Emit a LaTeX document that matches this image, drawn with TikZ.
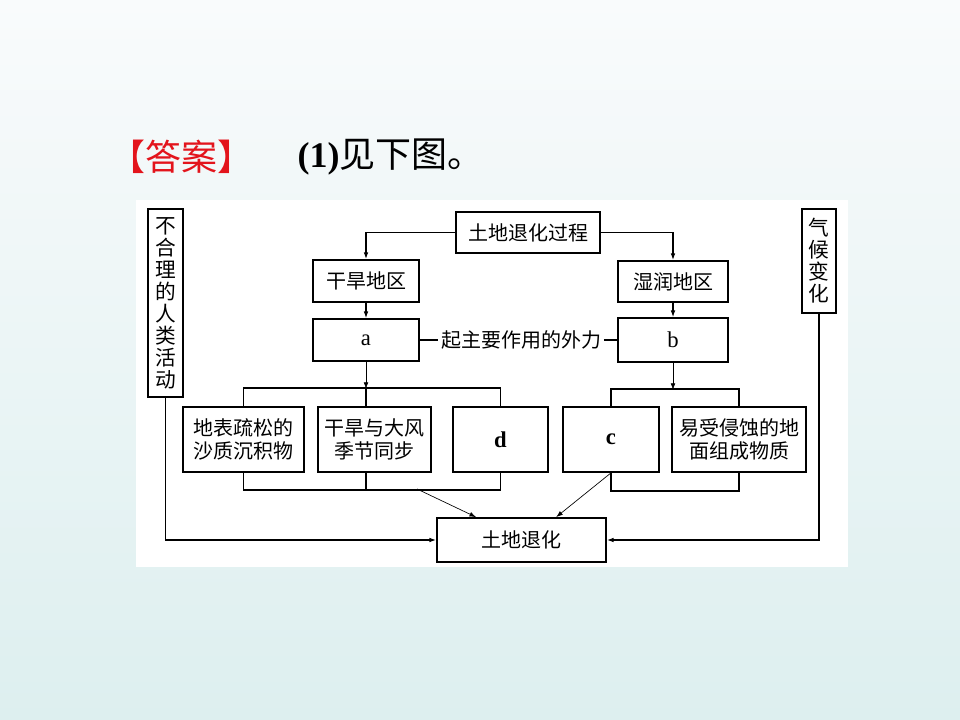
\documentclass[tikz,border=0pt]{standalone}
\usepackage{fontspec}
\setmainfont{Liberation Serif}
\newfontfamily\cjk{Noto Sans CJK SC}
\usetikzlibrary{arrows.meta, positioning, calc}
\definecolor{ansred}{HTML}{E3141C}
\definecolor{bgtop}{HTML}{F9FBFC}
\definecolor{bgbot}{HTML}{DDEFEF}

\begin{document}
\begin{tikzpicture}[x=0.75pt, y=-0.75pt,
  >={Latex[length=5pt, width=3.5pt]},
  box/.style={draw=black, line width=1.3pt, fill=white, inner sep=0pt,
    align=center, font=\cjk\fontsize{15}{17.5}\selectfont},
  letter/.style={box, font=\fontsize{17}{19}\selectfont},
  vbox/.style={box, font=\cjk\fontsize{15.5}{16.5}\selectfont},
  link/.style={line width=1pt},
  arr/.style={->, line width=0.8pt},
  thin/.style={->, line width=0.5pt},
]

% Background
\useasboundingbox (0,0) rectangle (960,720);
\shade[top color=bgtop, bottom color=bgbot] (0,0) rectangle (960,720);
\fill[white] (136,200) rectangle (848,567);

% Title
\node[font=\cjk\fontsize{27}{30}\selectfont, text=ansred] (tag) at (181,157)
  {【答案】};
\node[anchor=west, font=\fontsize{27}{30}\selectfont] (ans) at (293,157)
  {\textbf{(1)}{\cjk 见下图。}};

% =============================================
% Upper boxes
% =============================================
\node[box, minimum width=108pt, minimum height=30.75pt] (proc) at (528,232.5)
  {土地退化过程};
\node[box, minimum width=79.5pt, minimum height=31.5pt] (dry) at (366,281)
  {干旱地区};
\node[letter, minimum width=79.5pt, minimum height=31.5pt] (a) at (366,340) {a};
\node[box, minimum width=82.5pt, minimum height=30.75pt] (wet) at (673,281.5)
  {湿润地区};
\node[letter, minimum width=82.5pt, minimum height=33pt] (b) at (673,340) {b};
\node[font=\cjk\fontsize{15}{17.5}\selectfont, inner sep=2pt] (force) at (521,340)
  {起主要作用的外力};

% Side factors
\node[vbox, minimum width=26.25pt, minimum height=141pt] (human) at (165.5,303)
  {不\\合\\理\\的\\人\\类\\活\\动};
\node[vbox, minimum width=25.5pt, minimum height=78pt] (climate) at (819,261)
  {气\\候\\变\\化};

% =============================================
% Lower boxes
% =============================================
\node[box, minimum width=90.75pt, minimum height=48.75pt] (loose) at (243.5,439.5)
  {地表疏松的\\沙质沉积物};
\node[box, minimum width=84.75pt, minimum height=48.75pt] (wind) at (374.5,439.5)
  {干旱与大风\\季节同步};
\node[letter, minimum width=71.25pt, minimum height=48.75pt] (d) at (500.5,439.5)
  {\textbf{d}};
\node[letter, minimum width=72pt, minimum height=48.75pt] (c) at (611,439.5)
  {\textbf{c}};
\node[box, minimum width=100.5pt, minimum height=48.75pt] (erode) at (739,439.5)
  {易受侵蚀的地\\面组成物质};

\node[box, minimum width=126.75pt, minimum height=33pt] (land) at (521.5,540)
  {土地退化};

% =============================================
% Connectors
% =============================================
\coordinate (lbar) at (300,389);
\coordinate (lfoot) at (417,489);
\coordinate (rbar) at (700,390);

\draw[link, ->] (proc.west) -| (dry.north);
\draw[link, ->] (proc.east) -| (wet.north);
\draw[arr] (dry.south) -- (a.north);
\draw[arr] (wet.south) -- (b.north);
\draw[link] (a.east) -- (force.west);
\draw[link] (force.east) -- (b.west);

% left group rails
\draw[link] (loose.north) -- ++(0,-18) -| (d.north);
\draw[link] (loose.south) -- ++(0,17) -| (d.south);
\draw[thin] (a.south) -- (a.south |- lbar);
\draw[link] (a.south |- lbar) -- (a.south |- wind.north);
\draw[link] (a.south |- wind.south) -- (a.south |- lfoot);

% right group rails
\draw[link] (c.north) -- ++(0,-17) -| (erode.north);
\draw[link] (c.south) -- ++(0,18) -| (erode.south);
\draw[thin] (b.south) -- (b.south |- rbar);

% into land degradation
\draw[thin] (lfoot) -- ($(land.north west)+(40,0)$);
\draw[thin] (c.south) -- ($(land.north west)+(120,0)$);
\draw[link, ->] (human.south) |- (land.west);
\draw[link, ->] (climate.south) |- (land.east);

\end{tikzpicture}
\end{document}
